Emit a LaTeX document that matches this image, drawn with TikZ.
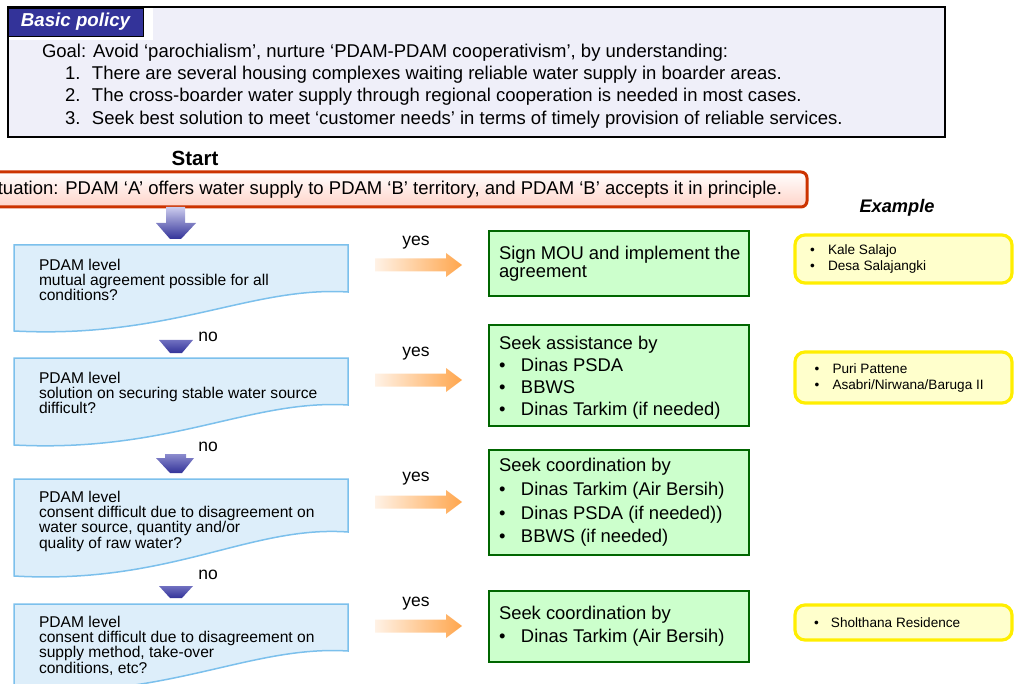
\documentclass[tikz,border=0pt]{standalone}
\usepackage{fontspec}
\setmainfont{Liberation Sans}

\definecolor{policyfill}{HTML}{EFEFF9}
\definecolor{tabblue}{HTML}{333399}
\definecolor{startred}{HTML}{CC3300}
\definecolor{startpink}{HTML}{FFD3C8}
\definecolor{decfill}{HTML}{DDEEFA}
\definecolor{decline}{HTML}{7CC0EC}
\definecolor{actfill}{HTML}{CCFFCC}
\definecolor{actline}{HTML}{006600}
\definecolor{exfill}{HTML}{FFFFCC}
\definecolor{exline}{HTML}{FFEE00}
\definecolor{yeslight}{HTML}{FFF2E6}
\definecolor{yesorange}{HTML}{FFA64D}
\definecolor{flowlight}{HTML}{CCCCEE}
\definecolor{flowmid}{HTML}{7070C0}
\definecolor{flowdark}{HTML}{333399}

\newcommand{\fGoal}{\fontsize{18.5}{22.3}\selectfont}
\newcommand{\fDec}{\fontsize{15.6}{15.3}\selectfont}
\newcommand{\fAct}{\fontsize{18.4}{22}\selectfont}
\newcommand{\fEx}{\fontsize{13.6}{16}\selectfont}
\newcommand{\fLab}{\fontsize{17.5}{18}\selectfont}
\newcommand{\bul}[1]{\makebox[#1][l]{\textbullet}}

\begin{document}
\begin{tikzpicture}[x=1pt,y=-1pt,
  every node/.style={inner sep=0pt, outer sep=0pt},
  policybox/.style={draw=black, line width=2pt, fill=policyfill},
  tabbox/.style={draw=black, line width=0.8pt, fill=tabblue, text=white,
    font=\fontsize{18.7}{19}\selectfont\bfseries\itshape},
  startbox/.style={draw=startred, line width=3pt, rounded corners=6pt,
    top color=white, bottom color=startpink},
  decision/.style={draw=decline, line width=1.5pt, fill=decfill},
  dectext/.style={align=left, font=\fDec},
  actbox/.style={draw=actline, line width=2.5pt, fill=actfill},
  acttext/.style={align=left, font=\fAct},
  exbox/.style={draw=exline, line width=3.2pt, fill=exfill, rounded corners=10pt},
  extext/.style={align=left, font=\fEx},
  yesarrow/.style={left color=yeslight, right color=yesorange},
  label/.style={font=\fLab}]

\useasboundingbox (0,0) rectangle (1014,684);

% ---- basic policy panel
\node[policybox, anchor=north west, minimum width=937pt, minimum height=130pt] (policy) at (8,7) {};
\fill[white] (9,8.5) rectangle (153,40);
\node[tabbox, anchor=north west, minimum width=135pt, minimum height=28pt] (tab) at (8,8) {Basic policy};
\node[anchor=west, align=left, font=\fGoal] (goal) at (42,86)
  {Goal: Avoid ‘parochialism’, nurture ‘PDAM-PDAM cooperativism’, by understanding:\\
   \hspace*{23pt}\makebox[27pt][l]{1.}There are several housing complexes waiting reliable water supply in boarder areas.\\
   \hspace*{23pt}\makebox[27pt][l]{2.}The cross-boarder water supply through regional  cooperation is needed in most cases.\\
   \hspace*{23pt}\makebox[27pt][l]{3.}Seek best solution to meet ‘customer needs’ in terms of timely provision of reliable services.};

% ---- start
\node[font=\fontsize{20.5}{22}\selectfont\bfseries] (start) at (195,158) {Start};
\path[startbox] (-40,172) rectangle (807,207);
\node[anchor=east, font=\fGoal] (situation) at (782,189.5)
  {Situation: PDAM ‘A’ offers water supply to PDAM ‘B’ territory, and PDAM ‘B’ accepts it in principle.};

% ---- downward flow arrows
\path[top color=flowlight, bottom color=flowdark]
  (166,207) -- (185,207) -- (185,223) -- (196,223) -- (181,239) -- (170,239) -- (156,223) -- (166,223) -- cycle;
\path[top color=flowmid, bottom color=flowdark]
  (159,340) -- (193,340) -- (182,353) -- (170,353) -- cycle;
\path[top color=flowmid!70!flowlight, bottom color=flowdark]
  (165,454) -- (186,454) -- (186,458) -- (194,458) -- (182,473) -- (170,473) -- (156,458) -- (165,458) -- cycle;
\path[top color=flowmid, bottom color=flowdark]
  (159,586) -- (193,586) -- (182,598) -- (170,598) -- cycle;

% ---- decisions
\draw[decision] (14,245) -- (348,245) -- (348,292) .. controls (250,286) and (170,339) .. (14,331) -- cycle;
\draw[decision] (14,358) -- (348,358) -- (348,405) .. controls (250,399) and (170,453) .. (14,445) -- cycle;
\draw[decision] (14,479) -- (348,479) -- (348,532) .. controls (250,525) and (170,585) .. (14,576) -- cycle;
\draw[decision] (14,604) -- (348,604) -- (348,651) .. controls (250,645) and (170,699) .. (14,691) -- cycle;

\node[dectext, anchor=north west] (q1) at (39,259) {PDAM level\\mutual agreement possible for all\\conditions?};
\node[dectext, anchor=north west] (q2) at (39,372) {PDAM level\\solution on securing stable water source\\difficult?};
\node[dectext, anchor=north west] (q3) at (39,491) {PDAM level\\consent difficult due to disagreement on\\water source, quantity and/or\\quality of raw water?};
\node[dectext, anchor=north west] (q4) at (39,616) {PDAM level\\consent difficult due to disagreement on\\supply method, take-over\\conditions, etc?};

\node[label] (no1) at (208,337) {no};
\node[label] (no2) at (208,447) {no};
\node[label] (no3) at (208,575) {no};

% ---- yes arrows
\foreach \cy/\n in {265/1,380/2,502/3,626/4}{
  \path[yesarrow] (375,\cy-6.5) -- (446,\cy-6.5) -- (446,\cy-12) -- (462,\cy) -- (446,\cy+12)
    -- (446,\cy+6.5) -- (375,\cy+6.5) -- cycle;
}
\node[label] (yes1) at (416,243) {yes};
\node[label] (yes2) at (416,354) {yes};
\node[label] (yes3) at (416,479) {yes};
\node[label] (yes4) at (416,604) {yes};

% ---- actions
\path[actbox] (489,231) rectangle (749,296);
\path[actbox] (489,325) rectangle (749,426);
\path[actbox] (489,450) rectangle (749,555);
\path[actbox] (489,591) rectangle (749,662);

\node[acttext, anchor=west, font=\fontsize{18.4}{18}\selectfont] (a1) at (499,264)
  {Sign MOU and implement the\\agreement};
\node[acttext, anchor=west] (a2) at (499,377.5)
  {Seek assistance by\\\bul{22pt}Dinas PSDA\\\bul{22pt}BBWS\\\bul{22pt}Dinas Tarkim (if needed)};
\node[acttext, anchor=west, font=\fontsize{18.4}{23.6}\selectfont] (a3) at (499,502.5)
  {Seek coordination by\\\bul{22pt}Dinas Tarkim (Air Bersih)\\\bul{22pt}Dinas PSDA (if needed))\\\bul{22pt}BBWS (if needed)};
\node[acttext, anchor=west, font=\fontsize{18.4}{23}\selectfont] (a4) at (499,626)
  {Seek coordination by\\\bul{22pt}Dinas Tarkim (Air Bersih)};

% ---- examples
\node[font=\fontsize{18.2}{20}\selectfont\bfseries\itshape] (example) at (897,208) {Example};
\path[exbox] (795,235) rectangle (1012,283);
\path[exbox] (795,352) rectangle (1012,403);
\path[exbox] (795,605) rectangle (1012,640);
\node[extext, anchor=west] (e1) at (810,259) {\bul{18pt}Kale Salajo\\\bul{18pt}Desa Salajangki};
\node[extext, anchor=west] (e2) at (814.5,377.5) {\bul{18pt}Puri Pattene\\\bul{18pt}Asabri/Nirwana/Baruga II};
\node[extext, anchor=west] (e3) at (814,622.5) {\bul{17pt}Sholthana Residence};
\end{tikzpicture}
\end{document}
